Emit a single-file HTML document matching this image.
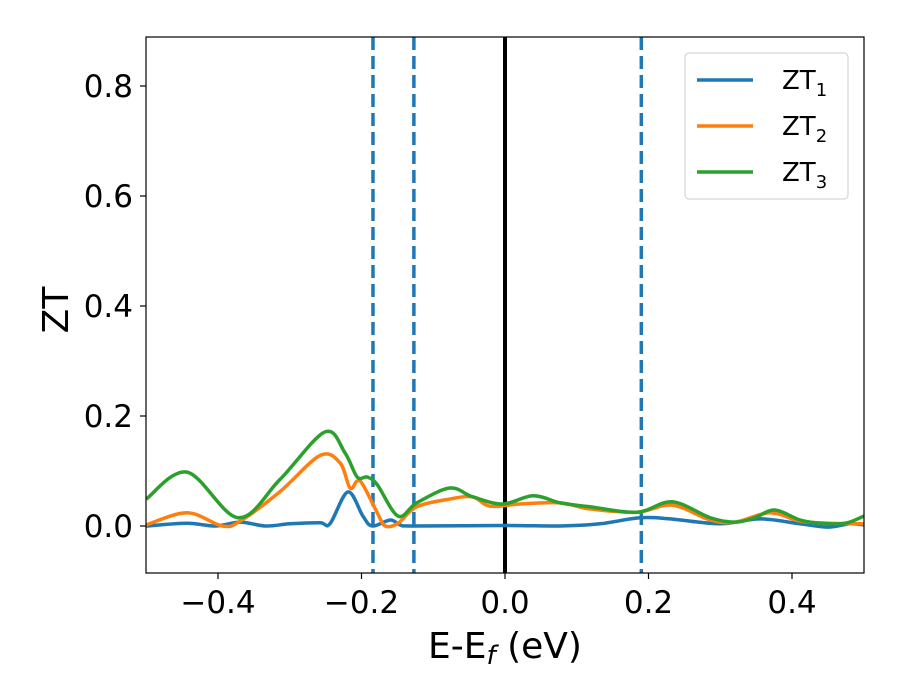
<!DOCTYPE html>
<html><head><meta charset="utf-8"><style>body{margin:0;background:#fff}svg{display:block;font-family:"DejaVu Sans","Liberation Sans",sans-serif}</style></head>
<body>
<svg id="chart" width="900" height="700" viewBox="0 0 900 700"></svg>
<script>
const xTicks=[-0.4,-0.2,0.0,0.2,0.4];
const yTicks=[0.0,0.2,0.4,0.6,0.8];
const vlinesDashed=[-0.184,-0.127,0.19];
const zt1X=[-0.5,-0.443,-0.404,-0.369,-0.334,-0.300,-0.258,-0.244,-0.219,-0.198,-0.185,-0.160,-0.146,-0.127,0,0.077,0.132,0.188,0.230,0.300,0.355,0.411,0.450,0.481,0.5];
const zt1Y=[0.0,0.005,0.0,0.007,0.0,0.004,0.006,0.004,0.062,0.018,0.0,0.011,0.002,0.0,0.001,0.0,0.004,0.015,0.013,0.004,0.013,0.004,-0.002,0.004,0.002];
const zt2X=[-0.5,-0.443,-0.394,-0.369,-0.314,-0.258,-0.230,-0.216,-0.206,-0.198,-0.178,-0.167,-0.149,-0.123,-0.077,-0.045,-0.021,0.021,0.077,0.118,0.184,0.233,0.286,0.321,0.369,0.411,0.453,0.5];
const zt2Y=[0.002,0.024,0.0,0.009,0.062,0.128,0.115,0.069,0.082,0.075,0.024,0.0,0.005,0.035,0.049,0.053,0.036,0.040,0.042,0.031,0.025,0.038,0.011,0.007,0.024,0.009,0.005,0.004];
const zt3X=[-0.5,-0.443,-0.372,-0.314,-0.251,-0.223,-0.206,-0.192,-0.178,-0.149,-0.123,-0.077,-0.045,-0.003,0.039,0.077,0.118,0.184,0.233,0.286,0.321,0.348,0.376,0.411,0.439,0.474,0.5];
const zt3Y=[0.049,0.098,0.015,0.084,0.171,0.133,0.089,0.089,0.075,0.018,0.042,0.069,0.053,0.040,0.055,0.042,0.035,0.025,0.044,0.015,0.007,0.015,0.029,0.011,0.005,0.005,0.018];
const L=146,R=864,T=37,B=573;
const sx=v=>505+v*717.5, sy=v=>526-v*550;
const NS='http://www.w3.org/2000/svg', svg=document.getElementById('chart');
function mk(tag,attrs,parent){const e=document.createElementNS(NS,tag);for(const k in attrs)e.setAttribute(k,attrs[k]);(parent||svg).appendChild(e);return e;}
const clip=mk('clipPath',{id:'pc'});mk('rect',{x:L,y:T,width:R-L,height:B-T},clip);
function smooth(xs,ys){const p=xs.map((x,i)=>[sx(x),sy(ys[i])]);let d='M'+p[0][0]+','+p[0][1];
for(let i=0;i<p.length-1;i++){const p0=p[i-1]||p[i],p1=p[i],p2=p[i+1],p3=p[i+2]||p2;
d+=` C${p1[0]+(p2[0]-p0[0])/6},${p1[1]+(p2[1]-p0[1])/6} ${p2[0]-(p3[0]-p1[0])/6},${p2[1]-(p3[1]-p1[1])/6} ${p2[0]},${p2[1]}`;}return d;}
const g=mk('g',{'clip-path':'url(#pc)'});
vlinesDashed.forEach(v=>{const l=mk('line',{x1:sx(v),x2:sx(v),y1:T,y2:B,stroke:'#1f77b4','stroke-width':3.5,'stroke-dasharray':'13,6'},g);

});
const fl=mk('line',{x1:sx(0),x2:sx(0),y1:T,y2:B,stroke:'#000','stroke-width':4},g);


[[zt1X,zt1Y,'#1f77b4','zt1-line'],[zt2X,zt2Y,'#ff7f0e','zt2-line'],[zt3X,zt3Y,'#2ca02c','zt3-line']].forEach(s=>{
const p=mk('path',{d:smooth(s[0],s[1]),fill:'none',stroke:s[2],'stroke-width':3.5},g);

});
const fr=mk('rect',{x:L,y:T,width:R-L,height:B-T,fill:'none',stroke:'#000','stroke-width':1.2});


xTicks.forEach(v=>{mk('line',{x1:sx(v),x2:sx(v),y1:B,y2:B+6,stroke:'#000','stroke-width':1.2});
const t=mk('text',{x:sx(v),y:B+40,'font-size':31,'text-anchor':'middle'});t.textContent=(v<0?'−':'')+Math.abs(v).toFixed(1);

});
yTicks.forEach(v=>{mk('line',{x1:L-6,x2:L,y1:sy(v),y2:sy(v),stroke:'#000','stroke-width':1.2});
const t=mk('text',{x:L-13,y:sy(v)+11,'font-size':31,'text-anchor':'end'});t.textContent=v.toFixed(1);

});
</script>
<svg style="position:absolute;left:0;top:0" width="900" height="700">
<text x="505" y="658" font-size="36" text-anchor="middle" font-family="DejaVu Sans,sans-serif">E-E<tspan font-style="italic" font-size="26" dy="6">f</tspan><tspan dy="-6"> (eV)</tspan></text>
<text transform="translate(68,310) rotate(-90)" font-size="36" text-anchor="middle" font-family="DejaVu Sans,sans-serif">ZT</text>
<g font-family="DejaVu Sans,sans-serif" font-size="26">
<rect x="685" y="53" width="163" height="146" rx="4" fill="#fff" stroke="#ccc"/>
<line x1="697" x2="753" y1="80" y2="80" stroke="#1f77b4" stroke-width="3.5"/><text x="782" y="89">ZT<tspan font-size="18" dy="7">1</tspan></text>
<line x1="697" x2="753" y1="126" y2="126" stroke="#ff7f0e" stroke-width="3.5"/><text x="782" y="135">ZT<tspan font-size="18" dy="7">2</tspan></text>
<line x1="697" x2="753" y1="172" y2="172" stroke="#2ca02c" stroke-width="3.5"/><text x="782" y="181">ZT<tspan font-size="18" dy="7">3</tspan></text>
</g></svg>
</body></html>
